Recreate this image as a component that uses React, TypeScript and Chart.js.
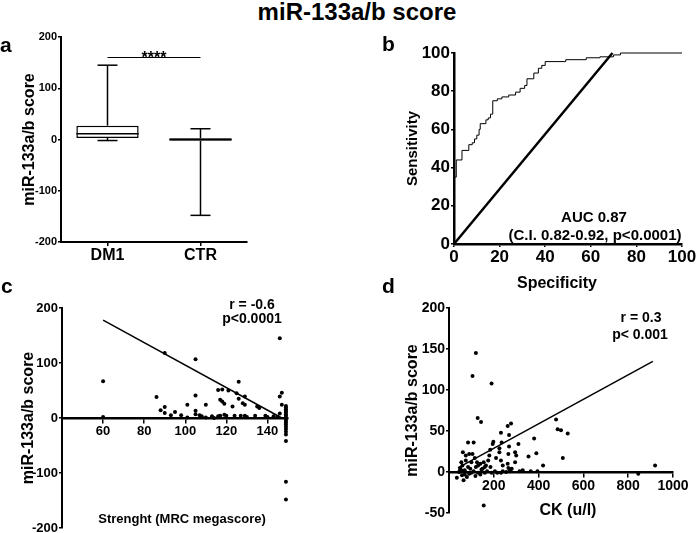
import React, { useEffect, useRef } from "react";
import { Chart, registerables } from "chart.js";

Chart.register(...registerables);

const FONT = "'Liberation Sans', Arial, Helvetica, sans-serif";
const BLACK = "#000";

// ---------- Panel a : box plot ----------
const groups = ["DM1", "CTR"];
const boxMin = [-2, -148];
const boxQ1 = [3, -2.5];
const boxMedian = [11, 0];
const boxQ3 = [27, 2.5];
const boxMax = [145, 21];
const boxFill = ["#ffffff", "#000000"];
const sigValue = 160;
const sigLabel = "****";

// ---------- Panel b : ROC curve ----------
const rocFpr = [0, 0, 1, 3.5, 6.5, 8, 9, 10, 11, 11.5, 14, 15, 16, 17, 19, 21, 24, 27, 29, 31, 32, 35, 37, 38.5, 40, 49, 58, 64, 70, 73, 100];
const rocSens = [0, 35, 44, 49, 52, 53, 55, 57, 60, 63, 65, 66, 68, 75, 76, 77, 78, 79.5, 81.5, 83, 86.5, 89.5, 92, 93.5, 95.5, 96.5, 97.5, 98, 99, 100, 100];
const refLineX = [0, 69.5];
const refLineY = [0, 100];

// ---------- Panel c : strength vs score ----------
const mrcScore = [
  60, 60, 86, 88, 90, 90, 90, 93, 95, 98, 101, 101, 105, 105, 105, 105, 107, 110, 108, 110,
  113, 114, 116, 116, 118, 117, 118, 119, 117, 119, 120, 121, 123, 124, 126, 125, 126, 128, 129, 129,
  127, 129, 130, 135, 136, 134, 139, 140, 143, 146, 146, 147, 147, 146, 145,
  149, 149, 149, 149, 149, 149, 149, 149, 149, 149, 149, 149, 149, 149, 149, 149, 149, 149, 149,
];
const mrcMir = [
  67, 2, 38, 14, 20, 9, 118, 5, 11, 5, 24, 1, 107, 41, 13, 7, 5, 24, 3, 1,
  3, 0, 3, 51, 52, 33, 30, 26, 4, 6, 4, 50, 21, 4, 66, 45, 35, 27, 24, 39,
  4, 4, 2, 21, 18, 4, 4, 2, 3, 145, 39, 46, 24, 8, 2,
  22, 19, 16, 13, 10, 7, 4, 1, -2, -5, -8, -12, -16, -20, -25, -30, -42, -116, -148,
];
const mrcFitX = [60, 147];
const mrcFitY = [178, 0];
const mrcTicks = [60, 80, 100, 120, 140];

// ---------- Panel d : CK vs score ----------
const ckValue = [
  120, 105, 190, 128, 143, 232, 262, 277, 268, 478, 485, 500, 530, 508, 380, 390, 355, 420, 310, 295,
  300, 295, 268, 265, 235, 198, 195, 184, 225, 225, 210, 232, 240, 262, 265, 275, 280, 329, 365, 395,
  315, 35, 50, 65, 55, 85, 110, 62, 75, 90, 105, 115, 100, 75, 50, 55, 70, 85, 95, 110,
  120, 140, 155, 160, 170, 190, 205, 130, 118, 140, 180, 175, 150, 100, 90, 70, 58, 160, 185, 215,
  240, 255, 270, 232, 155, 845, 920, 130, 145, 125, 165, 80, 45, 60,
];
const ckMir = [
  145, 117, 108, 66, 61, 48, 56, 59, 45, 64, 52, 51, 47, 17, 41, 23, 19, 8, 34, 24,
  20, 12, 31, 22, 36, 37, 34, 27, 29, 24, 17, 14, 8, 10, 5, 3, 4, 2, 1, 1,
  1, -7, 3, -10, 12, 36, 36, 24, 20, 22, 22, 17, 12, 14, 5, 2, 2, 6, 4, 1,
  6, 10, 12, 6, 1, -1, 1, -1, -5, -3, 20, 14, 4, -1, -2, -3, -4, -1, 6, -1,
  1, 0, 1, -1, -41, -2, 8, 8, 3, 12, 8, -6, 0, 8,
];
const ckFitX = [40, 910];
const ckFitY = [5, 135];
const ckTicks = [200, 400, 600, 800, 1000];

const bold = (size: number) => ({ family: FONT, size, weight: "bold" as const });

const pairs = (xs: number[], ys: number[]) => xs.map((x, i) => ({ x, y: ys[i] }));

const plain = (v: any) => String(v);

const boxPlugin = {
  id: "boxWhiskers",
  afterDatasetsDraw(chart: any) {
    const { ctx } = chart;
    const x = chart.scales.x;
    const y = chart.scales.y;
    const meta = chart.getDatasetMeta(0);
    const seg = (x1: number, y1: number, x2: number, y2: number, w: number) => {
      ctx.lineWidth = w;
      ctx.beginPath();
      ctx.moveTo(x1, y1);
      ctx.lineTo(x2, y2);
      ctx.stroke();
    };
    ctx.save();
    ctx.strokeStyle = BLACK;
    groups.forEach((_, i) => {
      const cx = x.getPixelForValue(i);
      const half = meta.data[i].width / 2;
      const cap = 10;
      const py = (v: number) => y.getPixelForValue(v);
      seg(cx, py(boxQ3[i]), cx, py(boxMax[i]), 1.5);
      seg(cx, py(boxQ1[i]), cx, py(boxMin[i]), 1.5);
      seg(cx - cap, py(boxMax[i]), cx + cap, py(boxMax[i]), 1.5);
      seg(cx - cap, py(boxMin[i]), cx + cap, py(boxMin[i]), 1.5);
      seg(cx - half, py(boxMedian[i]), cx + half, py(boxMedian[i]), 1.5);
    });
    const sy = y.getPixelForValue(sigValue);
    const x0 = x.getPixelForValue(0);
    const x1 = x.getPixelForValue(1);
    seg(x0, sy, x1, sy, 1);
    ctx.fillStyle = BLACK;
    ctx.font = `bold 16px ${FONT}`;
    ctx.textAlign = "center";
    ctx.textBaseline = "alphabetic";
    ctx.fillText(sigLabel, (x0 + x1) / 2, sy + 5);
    ctx.restore();
  },
};

const yAxis = (o: any) => ({
  min: o.min,
  max: o.max,
  ticks: { stepSize: o.step, font: bold(o.tickSize), color: BLACK, padding: 1, callback: plain },
  grid: { drawOnChartArea: false, tickLength: 3, color: BLACK, lineWidth: 1.5 },
  border: { color: BLACK, width: o.borderWidth ?? 2 },
  title: {
    display: true,
    text: o.title,
    font: bold(o.titleSize),
    color: BLACK,
    padding: { top: o.titlePad, bottom: 0 },
  },
  afterFit: (s: any) => {
    s.width = o.width;
    s.paddingTop = 0;
    s.paddingBottom = 0;
  },
});

const baseOptions = (padding: any) => ({
  animation: false as const,
  responsive: false,
  events: [],
  layout: { padding },
  plugins: { legend: { display: false }, tooltip: { enabled: false } },
});

const configA = () => ({
  type: "bar" as const,
  data: {
    labels: groups,
    datasets: [
      {
        data: groups.map((_, i) => [boxQ1[i], boxQ3[i]]),
        backgroundColor: boxFill,
        borderColor: BLACK,
        borderWidth: 1.5,
        borderSkipped: false,
        barPercentage: 0.67,
        categoryPercentage: 1,
      },
    ],
  },
  options: {
    ...baseOptions({ top: 7, right: 15, left: 0, bottom: 0 }),
    scales: {
      x: {
        grid: { drawOnChartArea: false, offset: false, tickLength: 4, color: BLACK, lineWidth: 1.5 },
        border: { color: BLACK, width: 2 },
        ticks: { font: bold(16), color: BLACK, padding: 0 },
        afterFit: (s: any) => {
          s.height = 33;
        },
      },
      y: yAxis({ min: -200, max: 200, step: 100, tickSize: 11, title: "miR-133a/b score", titleSize: 16, titlePad: 20.4, width: 61 }),
    },
  },
  plugins: [boxPlugin],
});

const configB = () => ({
  type: "scatter" as const,
  data: {
    datasets: [
      {
        data: pairs(rocFpr, rocSens),
        showLine: true,
        stepped: true,
        borderColor: BLACK,
        borderWidth: 1,
        pointRadius: 0,
        clip: false,
      },
      {
        data: pairs(refLineX, refLineY),
        showLine: true,
        borderColor: BLACK,
        borderWidth: 2.5,
        pointRadius: 0,
        clip: false,
      },
    ],
  },
  options: {
    ...baseOptions({ top: 23, right: 15, left: 0, bottom: 0 }),
    scales: {
      x: {
        type: "linear",
        min: 0,
        max: 100,
        ticks: { stepSize: 20, font: bold(17), color: BLACK, padding: 0, callback: plain },
        grid: { drawOnChartArea: false, tickLength: 3, color: BLACK, lineWidth: 1.5 },
        border: { color: BLACK, width: 2.5 },
        afterFit: (s: any) => {
          s.height = 48;
        },
      },
      y: yAxis({ min: 0, max: 100, step: 20, tickSize: 17, title: "Sensitivity", titleSize: 15, titlePad: 54.3, width: 104, borderWidth: 2.5 }),
    },
  },
});

const scatterConfig = (o: any) => ({
  type: "scatter" as const,
  data: {
    datasets: [
      {
        data: pairs(o.xs, o.ys),
        pointRadius: 2,
        pointBackgroundColor: BLACK,
        pointBorderWidth: 0,
        clip: false,
      },
      {
        data: pairs(o.fitX, o.fitY),
        showLine: true,
        borderColor: BLACK,
        borderWidth: 1.5,
        pointRadius: 0,
      },
    ],
  },
  options: {
    ...baseOptions(o.padding),
    scales: {
      x: {
        type: "linear",
        min: o.xMin,
        max: o.xMax,
        position: { y: 0 },
        afterBuildTicks: (s: any) => {
          s.ticks = o.xTicks.map((v: number) => ({ value: v }));
        },
        ticks: { font: bold(o.xTickSize), color: BLACK, padding: 2, autoSkip: false, maxRotation: 0, callback: plain },
        grid: { drawOnChartArea: false, tickLength: 4, color: BLACK, lineWidth: 1.5 },
        border: { color: BLACK, width: 2.5 },
      },
      y: yAxis(o.y),
    },
  },
});

const configC = () =>
  scatterConfig({
    xs: mrcScore,
    ys: mrcMir,
    fitX: mrcFitX,
    fitY: mrcFitY,
    xMin: 40,
    xMax: 150,
    xTicks: mrcTicks,
    xTickSize: 13,
    padding: { top: 18, right: 12, left: 0, bottom: 5 },
    y: { min: -200, max: 200, step: 100, tickSize: 13, title: "miR-133a/b score", titleSize: 16, titlePad: 18.9, width: 62 },
  });

const configD = () =>
  scatterConfig({
    xs: ckValue,
    ys: ckMir,
    fitX: ckFitX,
    fitY: ckFitY,
    xMin: 0,
    xMax: 1000,
    xTicks: ckTicks,
    xTickSize: 14,
    padding: { top: 18, right: 24, left: 0, bottom: 20 },
    y: { min: -50, max: 200, step: 50, tickSize: 14, title: "miR-133a/b score", titleSize: 16, titlePad: 52.9, width: 99 },
  });

function ChartBox({ left, top, width, height, make }: any) {
  const ref = useRef<HTMLCanvasElement>(null);
  useEffect(() => {
    const chart = new Chart(ref.current as HTMLCanvasElement, make() as any);
    return () => chart.destroy();
  }, []);
  return (
    <canvas
      ref={ref}
      width={width}
      height={height}
      style={{ position: "absolute", left, top, width, height }}
    />
  );
}

function Label({ x, top, size, text, center = true }: any) {
  return (
    <div
      style={{
        position: "absolute",
        left: x,
        top,
        fontFamily: FONT,
        fontWeight: "bold",
        fontSize: size,
        lineHeight: `${size}px`,
        whiteSpace: "nowrap",
        color: BLACK,
        transform: center ? "translateX(-50%)" : undefined,
      }}
    >
      {text}
    </div>
  );
}

export default function App() {
  return (
    <div
      style={{
        position: "absolute",
        left: 0,
        top: 0,
        width: 697,
        height: 533,
        overflow: "hidden",
        background: "#fff",
      }}
    >
      <ChartBox left={0} top={30} width={262} height={245} make={configA} />
      <ChartBox left={350} top={30} width={347} height={262} make={configB} />
      <ChartBox left={0} top={290} width={300} height={243} make={configC} />
      <ChartBox left={350} top={290} width={347} height={243} make={configD} />

      <Label x={357} top={0} size={24} text="miR-133a/b score" />
      <Label x={0} top={34} size={21} text="a" center={false} />
      <Label x={382} top={33} size={21} text="b" center={false} />
      <Label x={1} top={275} size={21} text="c" center={false} />
      <Label x={382} top={275} size={21} text="d" center={false} />

      <Label x={557} top={275} size={16} text="Specificity" />
      <Label x={594} top={209} size={15} text="AUC 0.87" />
      <Label x={595} top={227} size={15} text="(C.I. 0.82-0.92, p<0.0001)" />

      <Label x={252} top={297} size={14} text="r = -0.6" />
      <Label x={252} top={311} size={14} text="p<0.0001" />
      <Label x={182} top={512} size={13} text="Strenght (MRC megascore)" />

      <Label x={641} top={310} size={14} text="r = 0.3" />
      <Label x={640} top={327} size={14} text="p< 0.001" />
      <Label x={568} top={502} size={16} text="CK (u/l)" />
    </div>
  );
}
